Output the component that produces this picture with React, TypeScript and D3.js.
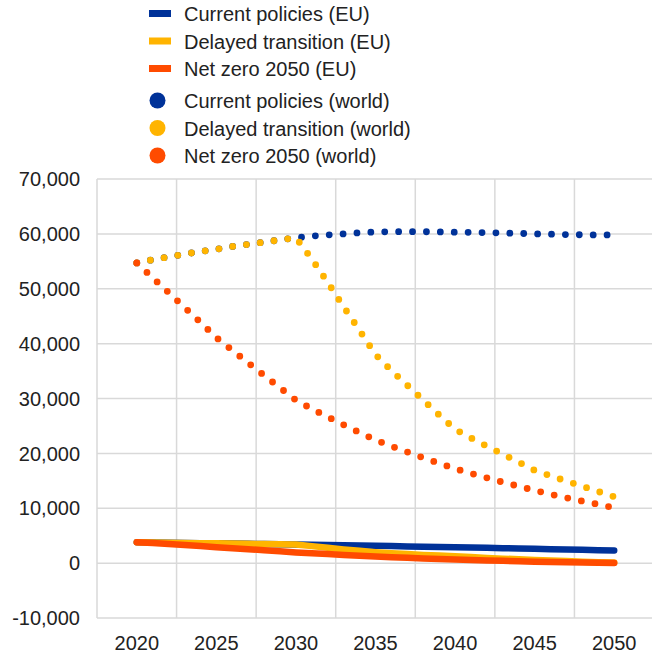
import React from "react";
import * as d3 from "d3";

const years = d3.range(2020, 2051);
const xTickYears = [2020, 2025, 2030, 2035, 2040, 2045, 2050];
const yTicks = [70000, 60000, 50000, 40000, 30000, 20000, 10000, 0, -10000];

const euCurrent = [3800, 3760, 3720, 3680, 3640, 3600, 3560, 3520, 3480, 3440, 3400, 3350, 3300, 3250, 3200, 3150, 3100, 3050, 3000, 2950, 2900, 2840, 2780, 2720, 2660, 2600, 2540, 2480, 2420, 2360, 2300];
const euDelayed = [3800, 3760, 3720, 3680, 3640, 3600, 3560, 3520, 3480, 3440, 3400, 3100, 2800, 2500, 2250, 2000, 1800, 1650, 1500, 1380, 1250, 1100, 950, 820, 700, 580, 470, 370, 270, 180, 100];
const euNetZero = [3800, 3650, 3480, 3300, 3100, 2900, 2720, 2540, 2350, 2150, 1950, 1800, 1650, 1500, 1350, 1200, 1080, 970, 860, 750, 650, 570, 490, 420, 340, 260, 200, 150, 100, 60, 30];

const worldCurrent = [54700, 55300, 55800, 56300, 56800, 57200, 57700, 58100, 58500, 58900, 59300, 59600, 59800, 60000, 60200, 60350, 60400, 60400, 60400, 60350, 60300, 60280, 60230, 60150, 60100, 60000, 59950, 59870, 59830, 59800, 59800];
const worldDelayed = [54700, 55300, 55800, 56300, 56800, 57200, 57700, 58100, 58500, 58900, 59300, 55400, 51150, 46700, 42400, 38000, 35100, 32400, 29700, 27000, 24400, 22800, 21300, 19850, 18400, 16900, 15900, 14950, 14000, 13050, 12100];
const worldNetZero = [54700, 52000, 49300, 46600, 43900, 41100, 38800, 36500, 34200, 31950, 29700, 28100, 26650, 25200, 23800, 22450, 21300, 20250, 19200, 18200, 17200, 16350, 15550, 14750, 14000, 13250, 12550, 11900, 11300, 10700, 10050];

const BLUE = "#003299";
const YELLOW = "#FFB400";
const RED = "#FF4B00";

const legendLines = [
  { label: "Current policies (EU)", color: BLUE },
  { label: "Delayed transition (EU)", color: YELLOW },
  { label: "Net zero 2050 (EU)", color: RED },
];
const legendDots = [
  { label: "Current policies (world)", color: BLUE },
  { label: "Delayed transition (world)", color: YELLOW },
  { label: "Net zero 2050 (world)", color: RED },
];

export default function App() {
  const W = 652, H = 657;
  const x = d3.scaleLinear().domain([2017.5, 2052.5]).range([97, 654]);
  const y = d3.scaleLinear().domain([-10000, 70000]).range([618, 179]);
  const line = (vals: number[]) =>
    d3.line<number>().x((_, i) => x(years[i])).y((v) => y(v))(vals) || "";
  const gridX = d3.range(2017.5, 2053, 5);
  const font = "'Liberation Sans', Arial, sans-serif";
  const textColor = "#222";
  const fmt = (v: number) => d3.format(",")(v).replace("\u2212", "-");

  const euSeries = [
    { vals: euCurrent, color: BLUE },
    { vals: euDelayed, color: YELLOW },
    { vals: euNetZero, color: RED },
  ];
  const worldSeries = [
    { vals: worldCurrent, color: BLUE },
    { vals: worldDelayed, color: YELLOW },
    { vals: worldNetZero, color: RED },
  ];

  return (
    <svg width={W} height={H} style={{ position: "absolute", left: 0, top: 0, background: "#fff" }} fontFamily={font}>
      <rect x={0} y={0} width={W} height={H} fill="#fff" />
      {yTicks.map((t) => (
        <line key={"gy" + t} x1={97} x2={654} y1={y(t)} y2={y(t)} stroke="#d9d9d9" strokeWidth={1.5} />
      ))}
      {gridX.map((g) => (
        <line key={"gx" + g} x1={x(g)} x2={x(g)} y1={y(70000)} y2={y(-10000)} stroke="#d9d9d9" strokeWidth={1.5} />
      ))}
      {yTicks.map((t) => (
        <text key={"yl" + t} x={80} y={y(t)} dy="0.36em" textAnchor="end" fontSize={20} fill={textColor}>
          {fmt(t)}
        </text>
      ))}
      {xTickYears.map((t) => (
        <text key={"xl" + t} x={x(t)} y={650} textAnchor="middle" fontSize={20} fill={textColor}>
          {t}
        </text>
      ))}
      {euSeries.map((s, i) => (
        <path key={"eu" + i} d={line(s.vals)} fill="none" stroke={s.color} strokeWidth={6.5} strokeLinecap="round" strokeLinejoin="round" />
      ))}
      {worldSeries.map((s, i) => (
        <path key={"w" + i} d={line(s.vals)} fill="none" stroke={s.color} strokeWidth={6.8} strokeLinecap="round" strokeDasharray="0 13.9" />
      ))}
      {legendLines.map((l, i) => (
        <g key={"ll" + i}>
          <rect x={149} y={10 + i * 27.5} width={22} height={7} fill={l.color} />
          <text x={184} y={14 + i * 27.5} dy="0.36em" fontSize={20} fill={textColor}>{l.label}</text>
        </g>
      ))}
      {legendDots.map((l, i) => (
        <g key={"ld" + i}>
          <circle cx={157.5} cy={100.5 + i * 27.5} r={8} fill={l.color} />
          <text x={184} y={101 + i * 27.5} dy="0.36em" fontSize={20} fill={textColor}>{l.label}</text>
        </g>
      ))}
    </svg>
  );
}
